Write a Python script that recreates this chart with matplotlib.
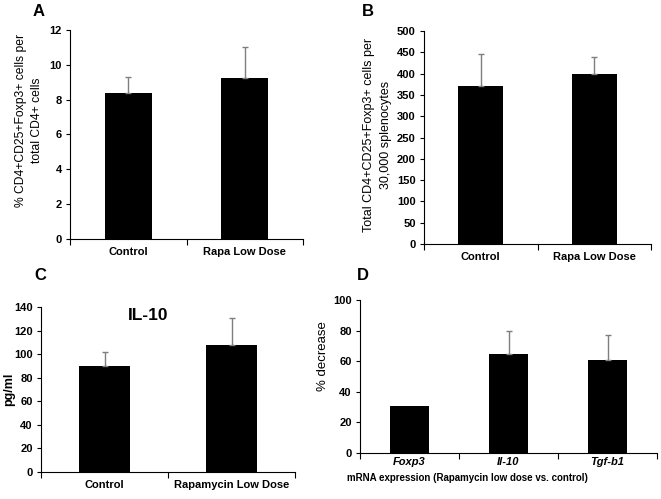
import matplotlib
matplotlib.use("Agg")
import matplotlib.pyplot as plt
import numpy as np

plt.rcParams['font.family'] = ['Liberation Sans', 'DejaVu Sans']

# Panel A
a_cats = ["Control", "Rapa Low Dose"]
a_vals = [8.4, 9.25]
a_err = [0.9, 1.8]
# Panel B
b_cats = ["Control", "Rapa Low Dose"]
b_vals = [371, 400]
b_err = [74, 40]
# Panel C
c_cats = ["Control", "Rapamycin Low Dose"]
c_vals = [90, 108]
c_err = [12, 23]
# Panel D
d_cats = ["Foxp3", "Il-10", "Tgf-b1"]
d_vals = [31, 64.5, 60.5]
d_err = [0, 15, 16.5]

W, H = 661, 499
fig = plt.figure(figsize=(W/100, H/100), dpi=100)

def px_axes(l, r, t, b):
    return fig.add_axes([l/W, 1-b/H, (r-l)/W, (b-t)/H])

def ftext(x, y, s, **kw):
    return fig.text(x/W, 1-y/H, s, **kw)

def draw(ax, cats, vals, errs, ymax, ystep, italic=False, xpad=6):
    n = len(cats)
    x = np.arange(n)
    ax.bar(x, vals, width=0.4, color='black', zorder=2)
    for xi, v, e in zip(x, vals, errs):
        if e > 0:
            ax.errorbar(xi, v, yerr=[[0], [e]], fmt='none', ecolor='#7f7f7f',
                        elinewidth=1.0, capsize=2, capthick=1.0, zorder=3)
    ax.set_xlim(-0.5, n-0.5)
    ax.set_ylim(0, ymax)
    ax.set_yticks(np.arange(0, ymax+ystep/2, ystep))
    ax.set_xticks(x)
    ax.set_xticklabels(cats, fontsize=8, fontweight='bold',
                       fontstyle='italic' if italic else 'normal')
    ax.tick_params(axis='x', length=0, pad=xpad)
    ax.set_xticks(np.arange(-0.5, n, 1.0), minor=True)
    ax.tick_params(axis='x', which='minor', length=4, direction='out', width=0.8)
    ax.tick_params(axis='y', length=3, direction='out', width=0.8, labelsize=8, pad=3)
    for lbl in ax.get_yticklabels():
        lbl.set_fontweight('bold')
    for s in ['top', 'right']:
        ax.spines[s].set_visible(False)
    for s in ['left', 'bottom']:
        ax.spines[s].set_linewidth(0.8)

axA = px_axes(70, 303, 30, 239)
draw(axA, a_cats, a_vals, a_err, 12, 2)
ftext(29, 120, "% CD4+CD25+Foxp3+ cells per\ntotal CD4+ cells", fontsize=8.7,
      rotation=90, ha='center', va='center', multialignment='center', linespacing=1.45)

axB = px_axes(424, 651, 31, 244)
draw(axB, b_cats, b_vals, b_err, 500, 50)
ftext(377.5, 135, "Total CD4+CD25+Foxp3+ cells per\n30,000 splenocytes", fontsize=9,
      rotation=90, ha='center', va='center', multialignment='center', linespacing=1.45)

axC = px_axes(41, 295, 307, 472)
draw(axC, c_cats, c_vals, c_err, 140, 20)
ftext(9, 389, "pg/ml", fontsize=9, fontweight='bold', rotation=90, ha='center', va='center')
axC.text(0.42, 0.95, "IL-10", transform=axC.transAxes, fontsize=12.5,
         fontweight='bold', ha='center', va='center')

axD = px_axes(360, 657, 300, 453)
draw(axD, d_cats, d_vals, d_err, 100, 20, italic=True, xpad=3)
ftext(323, 356, "% decrease", fontsize=9.5, rotation=90, ha='center', va='center')
ftext(467, 478, "mRNA expression (Rapamycin low dose vs. control)",
      fontsize=7, fontweight='bold', ha='center', va='center')

for lbl, x, y in [("A", 39, 11), ("B", 368, 11), ("C", 40, 275), ("D", 363, 275)]:
    ftext(x, y, lbl, fontsize=12, fontweight='bold', ha='center', va='center')

fig.savefig("out.png", dpi=100)
